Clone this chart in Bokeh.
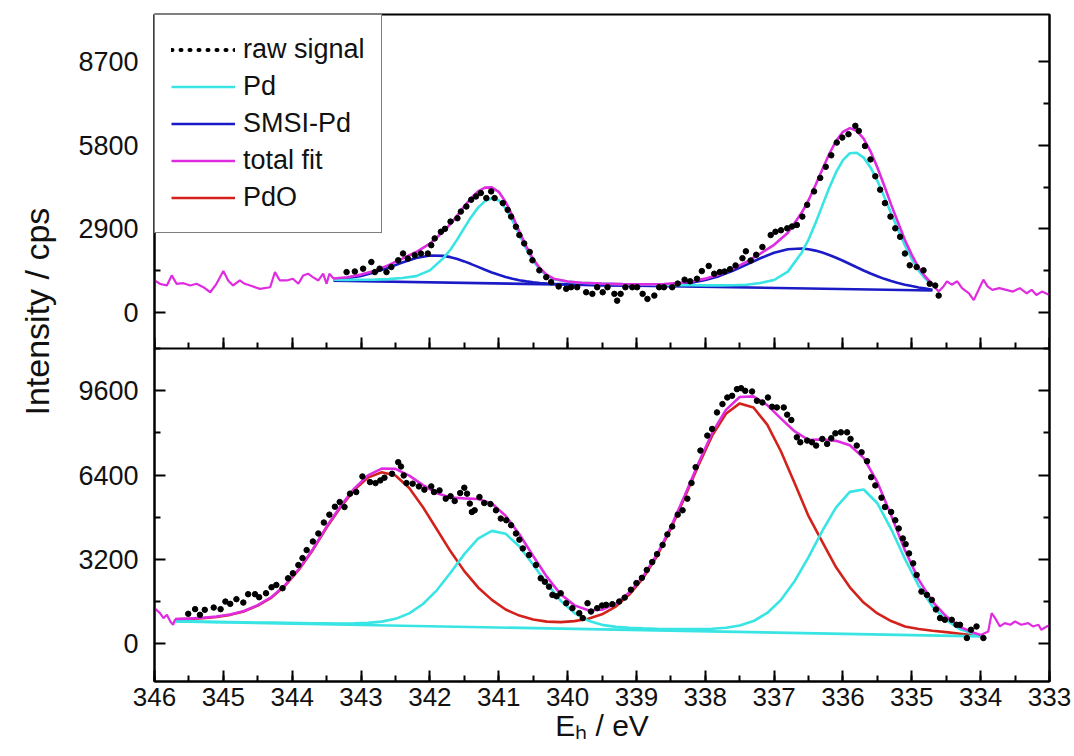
from bokeh.plotting import figure
from bokeh.models import (Range1d, LinearAxis, FixedTicker, SingleIntervalTicker,
                          Legend, LegendItem, Title)
from bokeh.embed import file_html
from bokeh.resources import INLINE

# ---------------- data: upper panel (Pd 3d, SMSI sample) ----------------
TOP_X = [343.4, 343.2, 343.0, 342.8, 342.6, 342.4, 342.2, 342.0, 341.8, 341.7, 341.6, 341.5,
         341.4, 341.3, 341.2, 341.1, 341.0, 340.9, 340.8, 340.7, 340.6, 340.5, 340.4, 340.3,
         340.2, 340.0, 339.8, 339.5, 339.2, 339.0, 338.8, 338.6, 338.4, 338.2, 338.0, 337.8,
         337.6, 337.4, 337.2, 337.0, 336.8, 336.6, 336.5, 336.4, 336.3, 336.2, 336.1, 336.0,
         335.9, 335.8, 335.7, 335.6, 335.5, 335.4, 335.3, 335.2, 335.1, 335.0, 334.9, 334.8, 334.7]
TOP_PD = [1132, 1130, 1132, 1137, 1157, 1194, 1259, 1458, 1893, 2184, 2543, 2934, 3313, 3635,
          3860, 3958, 3885, 3605, 3179, 2685, 2203, 1792, 1483, 1274, 1152, 1068, 1030, 1000,
          980, 968, 959, 951, 946, 941, 939, 938, 942, 962, 1020, 1125, 1416, 2073, 2530, 3094,
          3705, 4319, 4865, 5284, 5519, 5540, 5370, 5030, 4564, 4014, 3435, 2876, 2326, 1852,
          1448, 1164, 940]
TOP_SMSI = [1143, 1185, 1265, 1390, 1554, 1734, 1889, 1974, 1962, 1918, 1853, 1770, 1677, 1579,
            1481, 1388, 1304, 1230, 1169, 1118, 1078, 1046, 1023, 1005, 991, 973, 961, 949, 938,
            934, 935, 946, 975, 1029, 1122, 1259, 1442, 1659, 1881, 2071, 2193, 2216, 2191, 2144,
            2077, 1994, 1897, 1791, 1679, 1566, 1456, 1351, 1253, 1165, 1087, 1021, 963, 915,
            868, 829, 790]
TOP_FIT = [1175, 1223, 1312, 1450, 1642, 1867, 2095, 2387, 2817, 3068, 3366, 3678, 3968, 4196,
           4327, 4336, 4183, 3833, 3349, 2808, 2290, 1851, 1523, 1300, 1168, 1074, 1032, 1001,
           982, 974, 974, 985, 1016, 1073, 1172, 1316, 1511, 1755, 2043, 2346, 2767, 3455, 3891,
           4412, 4960, 5494, 5947, 6264, 6391, 6303, 6027, 5586, 5026, 4392, 3739, 3117, 2513,
           1995, 1548, 1229, 970]
TOP_BASE_X = [343.4, 334.7]
TOP_BASE_Y = [1100, 760]
TOP_RAW_X = [343.21, 343.09, 342.97, 342.85, 342.80, 342.73, 342.63, 342.56, 342.46, 342.39,
             342.32, 342.22, 342.13, 342.03, 341.98, 341.93, 341.84, 341.78, 341.70, 341.60,
             341.55, 341.47, 341.40, 341.33, 341.26, 341.18, 341.11, 341.06, 340.94, 340.87,
             340.82, 340.75, 340.70, 340.63, 340.55, 340.51, 340.41, 340.31, 340.24, 340.13,
             340.02, 339.95, 339.86, 339.73, 339.64, 339.57, 339.49, 339.42, 339.32, 339.28,
             339.23, 339.16, 339.06, 338.99, 338.91, 338.84, 338.74, 338.67, 338.60, 338.48,
             338.40, 338.30, 338.22, 338.12, 338.05, 337.95, 337.87, 337.79, 337.72, 337.64,
             337.56, 337.46, 337.41, 337.34, 337.26, 337.17, 337.05, 336.98, 336.90, 336.81,
             336.74, 336.67, 336.59, 336.52, 336.42, 336.33, 336.25, 336.17, 336.09, 336.01,
             335.92, 335.82, 335.77, 335.68, 335.60, 335.53, 335.46, 335.39, 335.31, 335.24,
             335.17, 335.10, 335.03, 334.93, 334.83, 334.74, 334.66, 334.61]
TOP_RAW_Y = [1399, 1420, 1518, 1749, 1399, 1518, 1399, 1574, 1808, 2043,
             1868, 1983, 2043, 2043, 2333, 2568, 2798, 2900, 3150, 3267,
             3498, 3673, 3907, 4023, 4142, 3967, 4198, 3967, 3792, 3557,
             3323, 2973, 2683, 2393, 2099, 1808, 1459, 1224, 1049, 900,
             819, 874, 874, 700, 644, 874, 700, 874, 644, 409,
             644, 874, 874, 874, 644, 469, 584, 874, 874, 874,
             1000, 1137, 1081, 1168, 1434, 1613, 1343, 1400, 1420, 1500,
             1630, 1880, 2120, 1800, 2000, 2270, 2683, 2798, 2850, 2917,
             2980, 3033, 3323, 3732, 4198, 4666, 5050, 5450, 5891, 6065,
             6181, 6471, 6296, 5772, 5307, 4722, 4257, 3792, 3323, 2917,
             2623, 2043, 1634, 1574, 1459, 993, 934, 584]
TOP_EDGE_L_X = [346.0, 345.92, 345.82, 345.75, 345.68, 345.58, 345.48, 345.39, 345.29, 345.19,
                345.10, 345.0, 344.93, 344.86, 344.76, 344.69, 344.61, 344.47, 344.32, 344.25,
                344.18, 344.08, 343.99, 343.91, 343.84, 343.77, 343.70, 343.62, 343.55, 343.50,
                343.46, 343.4]
TOP_EDGE_L_Y = [1109, 993, 934, 1284, 993, 1015, 934, 993, 875, 700, 993, 1434, 1109, 934, 1109,
                993, 934, 818, 875, 1399, 1109, 1109, 1168, 993, 1284, 1343, 1224, 1109, 1343,
                993, 1343, 1175]
TOP_EDGE_R_X = [334.7, 334.61, 334.54, 334.49, 334.42, 334.34, 334.27, 334.17, 334.10, 334.03,
                333.96, 333.90, 333.83, 333.73, 333.63, 333.53, 333.43, 333.33, 333.26, 333.19,
                333.11, 333.0]
TOP_EDGE_R_Y = [970, 724, 902, 1081, 962, 1081, 843, 665, 427, 784, 1137, 902, 784, 843, 784,
                724, 843, 665, 784, 605, 724, 605]

# ---------------- data: lower panel (Pd 3d, oxidised sample) ----------------
BOT_X = [345.7, 345.5, 345.3, 345.1, 344.9, 344.7, 344.5, 344.3, 344.1, 343.9, 343.7, 343.5,
         343.3, 343.1, 342.9, 342.7, 342.5, 342.3, 342.1, 341.9, 341.7, 341.5, 341.3, 341.1,
         340.9, 340.7, 340.5, 340.3, 340.1, 339.9, 339.7, 339.5, 339.3, 339.1, 338.9, 338.7,
         338.5, 338.3, 338.1, 337.9, 337.7, 337.5, 337.3, 337.1, 336.9, 336.7, 336.5, 336.3,
         336.1, 335.9, 335.7, 335.5, 335.3, 335.1, 334.9, 334.7, 334.5, 334.3, 334.1, 334.0]
BOT_PDO = [925, 940, 968, 1014, 1095, 1226, 1446, 1748, 2208, 2819, 3560, 4412, 5171, 5832,
           6306, 6511, 6383, 5908, 5182, 4344, 3507, 2755, 2135, 1662, 1296, 1066, 921, 837,
           817, 857, 947, 1117, 1409, 1875, 2497, 3330, 4365, 5548, 6769, 7900, 8731, 9123,
           8969, 8317, 7298, 6084, 4841, 3863, 2901, 2140, 1560, 1149, 858, 655, 557, 494,
           440, 380, 320, 290]
BOT_PD = [854, 846, 838, 829, 821, 812, 804, 798, 790, 782, 775, 772, 769, 771, 790, 837, 943,
          1152, 1505, 2027, 2692, 3401, 3990, 4283, 4171, 3691, 3000, 2280, 1629, 1160, 872,
          715, 638, 600, 583, 569, 560, 557, 556, 567, 604, 687, 859, 1166, 1665, 2382, 3290,
          4283, 5179, 5763, 5854, 5331, 4353, 3220, 2194, 1412, 899, 545, 375, 320]
BOT_FIT = [936, 952, 982, 1029, 1111, 1243, 1465, 1770, 2232, 2845, 3589, 4447, 5213, 5886,
           6388, 6650, 6638, 6381, 6018, 5712, 5549, 5516, 5495, 5325, 4856, 4156, 3330, 2535,
           1874, 1455, 1267, 1289, 1514, 1952, 2566, 3395, 4431, 5620, 6850, 8002, 8879, 9364,
           9392, 9057, 8546, 8059, 7734, 7758, 7702, 7535, 7055, 6131, 4872, 3546, 2431, 1596,
           1039, 634, 414, 334]
BOT_BASE_X = [345.7, 334.0]
BOT_BASE_Y = [843, 276]
BOT_RAW_X = [345.51, 345.41, 345.34, 345.27, 345.14, 345.04, 344.97, 344.90, 344.81, 344.71,
             344.64, 344.54, 344.48, 344.38, 344.30, 344.23, 344.14, 344.06, 343.99, 343.91,
             343.85, 343.79, 343.70, 343.62, 343.54, 343.46, 343.38, 343.31, 343.24, 343.16,
             343.07, 342.98, 342.87, 342.79, 342.72, 342.66, 342.55, 342.46, 342.42, 342.38,
             342.34, 342.25, 342.16, 342.08, 341.98, 341.94, 341.86, 341.77, 341.70, 341.64,
             341.56, 341.50, 341.46, 341.42, 341.39, 341.35, 341.28, 341.21, 341.12, 341.04,
             340.97, 340.89, 340.82, 340.75, 340.70, 340.65, 340.56, 340.46, 340.39, 340.33,
             340.27, 340.22, 340.16, 340.10, 340.02, 339.93, 339.83, 339.78, 339.71, 339.66,
             339.57, 339.50, 339.44, 339.35, 339.25, 339.17, 339.08, 339.00, 338.92, 338.85,
             338.77, 338.70, 338.62, 338.55, 338.48, 338.40, 338.33, 338.26, 338.20, 338.14,
             338.07, 337.97, 337.90, 337.83, 337.75, 337.68, 337.61, 337.54, 337.48, 337.42,
             337.32, 337.25, 337.17, 337.09, 337.03, 336.96, 336.86, 336.81, 336.75, 336.67,
             336.62, 336.52, 336.45, 336.39, 336.30, 336.23, 336.17, 336.11, 336.03, 335.94,
             335.89, 335.80, 335.73, 335.65, 335.59, 335.53, 335.44, 335.39, 335.30, 335.24,
             335.19, 335.13, 335.09, 335.04, 334.98, 334.93, 334.86, 334.78, 334.71, 334.65,
             334.59, 334.52, 334.42, 334.35, 334.30, 334.20, 334.14, 334.06, 333.96]
BOT_RAW_Y = [1134, 1312, 1096, 1285, 1372, 1312, 1599, 1512, 1690, 1561,
             1879, 1879, 1765, 1916, 2143, 2230, 2105, 2483, 2672, 2986,
             3250, 3553, 3880, 4184, 4600, 4900, 5200, 5379, 5190, 5697,
             5757, 6350, 6135, 6097, 6200, 6301, 6452, 6891, 6728, 6388,
             6097, 6075, 5972, 5848, 5972, 5757, 5821, 5506, 5600, 5417,
             5719, 5923, 5697, 5318, 5001, 5065, 5568, 5341, 5300, 5065,
             4751, 4687, 4498, 4184, 3950, 3617, 3364, 2986, 2483, 2350,
             2166, 1852, 1800, 1916, 1538, 1349, 1160, 971, 1538, 1221,
             1349, 1450, 1474, 1500, 1600, 1750, 2050, 2300, 2500, 2800,
             3100, 3400, 3750, 4150, 4450, 4900, 5065, 5506, 6100, 6702,
             7333, 7900, 8154, 8781, 9098, 9348, 9412, 9665, 9700, 9601,
             9575, 9223, 9160, 9348, 8996, 8970, 8970, 8696, 8493, 7836,
             7647, 7711, 7647, 7522, 7775, 7586, 7800, 7987, 8025, 8025,
             7775, 7522, 7269, 6929, 6324, 6010, 5545, 5190, 5001, 4687,
             4373, 3995, 3780, 3428, 3050, 2608, 1977, 1852, 1663, 1300,
             971, 907, 907, 718, 718, 215, 529, 654, 215]
BOT_EDGE_L_X = [346.0, 345.92, 345.87, 345.82, 345.77, 345.73, 345.7]
BOT_EDGE_L_Y = [1349, 1160, 971, 1096, 843, 718, 936]
BOT_EDGE_R_X = [334.0, 333.89, 333.84, 333.79, 333.72, 333.65, 333.57, 333.50, 333.41, 333.31,
                333.24, 333.16, 333.12, 333.04, 333.0]
BOT_EDGE_R_Y = [334, 465, 1160, 971, 654, 782, 718, 843, 718, 782, 654, 718, 529, 654, 700]

# ---------------- axes definitions ----------------
X_LIMITS = (346, 333)
TOP_LIMITS = (-1233, 10332)
BOT_LIMITS = (-1436, 11227)
TOP_TICKS = [0, 2900, 5800, 8700]
TOP_MINOR = [1450, 4350, 7250]
BOT_TICKS = [0, 3200, 6400, 9600]
BOT_MINOR = [1600, 4800, 8000, 11200]
LEGEND_LABELS = ["raw signal", "Pd", "SMSI-Pd", "total fit", "PdO"]
X_TITLE = "E\u2095 / eV"
Y_TITLE = "Intensity / cps"

FONT = "Liberation Sans"
TXT = "#111111"
CYAN = "#38E4E4"
BLUE = "#1A1AC6"
MAGENTA = "#E02CE0"
RED = "#D3221B"
LW = 2.6

# each panel takes one half of the frame
main_start = BOT_LIMITS[0]
main_end = BOT_LIMITS[0] + 2 * (BOT_LIMITS[1] - BOT_LIMITS[0])
top_end = TOP_LIMITS[1]
top_start = TOP_LIMITS[1] - 2 * (TOP_LIMITS[1] - TOP_LIMITS[0])


def to_main(v):
    return round(main_start + (v - top_start) / (top_end - top_start) * (main_end - main_start), 3)


p = figure(width=1074, height=756, output_backend="svg", toolbar_location=None,
           x_range=Range1d(*X_LIMITS), y_range=Range1d(main_start, main_end),
           min_border_left=151, min_border_right=25, min_border_top=14, min_border_bottom=75)
p.extra_y_ranges = {"top": Range1d(top_start, top_end)}
p.grid.visible = False
p.outline_line_color = "black"
p.outline_line_width = 2
p.background_fill_color = "white"
p.border_fill_color = "white"

# y ticks of both panels on one left axis
major = BOT_TICKS + [to_main(v) for v in TOP_TICKS]
minor = BOT_MINOR + [to_main(v) for v in TOP_MINOR]
overrides = {t: str(t) for t in BOT_TICKS}
overrides.update({to_main(v): str(v) for v in TOP_TICKS})
yt = FixedTicker(ticks=major, minor_ticks=minor)


def style_axis(ax, size="27px"):
    ax.axis_line_color = "black"
    ax.axis_line_width = 2
    ax.major_tick_in = 11
    ax.major_tick_out = 0
    ax.minor_tick_in = 6
    ax.minor_tick_out = 0
    ax.major_tick_line_width = 2
    ax.minor_tick_line_width = 2
    ax.major_tick_line_color = "black"
    ax.minor_tick_line_color = "black"
    ax.major_label_text_font = FONT
    ax.major_label_text_font_size = size
    ax.major_label_text_color = TXT


def hide_labels(ax):
    ax.major_label_text_font_size = "0px"
    ax.major_label_text_color = None
    ax.major_label_standoff = 0


ax_l = p.yaxis[0]
ax_l.ticker = yt
ax_l.major_label_overrides = overrides
style_axis(ax_l, "27px")
ax_l.major_label_standoff = 16

ax_r = LinearAxis(ticker=yt)
style_axis(ax_r)
hide_labels(ax_r)
p.add_layout(ax_r, "right")

xt = SingleIntervalTicker(interval=1, num_minor_ticks=2)
ax_b = p.xaxis[0]
ax_b.ticker = xt
style_axis(ax_b, "26px")
ax_b.major_label_standoff = 6
ax_b.axis_label = X_TITLE
ax_b.axis_label_standoff = 0
ax_b.axis_label_text_font = FONT
ax_b.axis_label_text_font_size = "30px"
ax_b.axis_label_text_font_style = "normal"
ax_b.axis_label_text_color = TXT

# x ticks along the boundary between the two panels
ax_mid = LinearAxis(ticker=xt, fixed_location=BOT_LIMITS[1])
style_axis(ax_mid)
hide_labels(ax_mid)
p.add_layout(ax_mid, "below")

# y axis title, shared by both panels
p.add_layout(Title(text=Y_TITLE, align="left", vertical_align="top", offset=266, standoff=35,
                   text_font=FONT, text_font_size="34px", text_font_style="normal",
                   text_color=TXT), "left")

# ---------------- upper panel ----------------
T = dict(y_range_name="top")
p.line(TOP_BASE_X, TOP_BASE_Y, line_color=BLUE, line_width=LW, **T)
r_smsi = p.line(TOP_X, TOP_SMSI, line_color=BLUE, line_width=LW, **T)
r_pd = p.line(TOP_X, TOP_PD, line_color=CYAN, line_width=LW, **T)
r_fit = p.line(TOP_X, TOP_FIT, line_color=MAGENTA, line_width=LW, **T)
p.line(TOP_EDGE_L_X, TOP_EDGE_L_Y, line_color=MAGENTA, line_width=2.2, **T)
p.line(TOP_EDGE_R_X, TOP_EDGE_R_Y, line_color=MAGENTA, line_width=2.2, **T)
p.scatter(TOP_RAW_X, TOP_RAW_Y, marker="circle", size=5.5, color="black", **T)

# ---------------- lower panel ----------------
r_pdo = p.line(BOT_X, BOT_PDO, line_color=RED, line_width=LW)
p.line(BOT_BASE_X, BOT_BASE_Y, line_color=CYAN, line_width=LW)
p.line(BOT_X, BOT_PD, line_color=CYAN, line_width=LW)
p.line(BOT_X, BOT_FIT, line_color=MAGENTA, line_width=LW)
p.line(BOT_EDGE_L_X, BOT_EDGE_L_Y, line_color=MAGENTA, line_width=2.2)
p.line(BOT_EDGE_R_X, BOT_EDGE_R_Y, line_color=MAGENTA, line_width=2.2)
p.scatter(BOT_RAW_X, BOT_RAW_Y, marker="circle", size=5.5, color="black")

# legend swatch for the dotted raw signal (no visible data of its own)
nan = float("nan")
r_raw_swatch = p.line(x=[nan, nan], y=[nan, nan], line_color="black", line_width=4,
                      line_dash="1 8", line_cap="round")

legend = Legend(items=[LegendItem(label=LEGEND_LABELS[0], renderers=[r_raw_swatch]),
                       LegendItem(label=LEGEND_LABELS[1], renderers=[r_pd]),
                       LegendItem(label=LEGEND_LABELS[2], renderers=[r_smsi]),
                       LegendItem(label=LEGEND_LABELS[3], renderers=[r_fit]),
                       LegendItem(label=LEGEND_LABELS[4], renderers=[r_pdo])],
                location="top_left", margin=0, padding=16, spacing=0,
                glyph_width=64, glyph_height=37, label_height=37, label_standoff=8,
                label_text_font=FONT, label_text_font_size="27px", label_text_color=TXT,
                border_line_color="black", border_line_width=1, background_fill_alpha=1.0)
p.add_layout(legend)

open("out.html", "w").write(file_html(p, INLINE))
